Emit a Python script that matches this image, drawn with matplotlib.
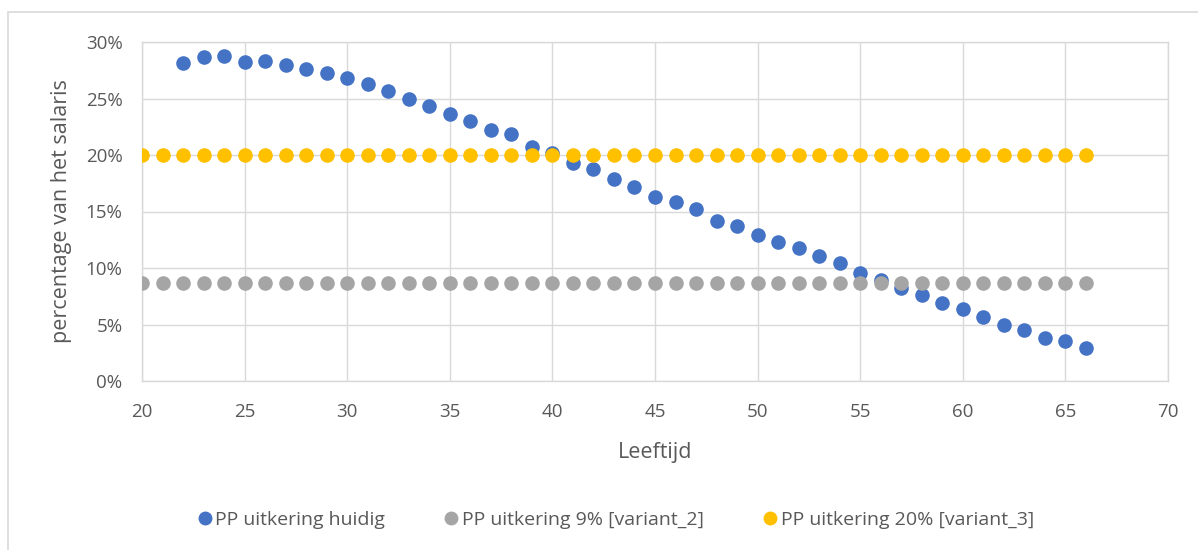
import matplotlib
matplotlib.use("Agg")
import matplotlib.pyplot as plt
from matplotlib.lines import Line2D
from matplotlib.patches import Rectangle
from matplotlib.ticker import FuncFormatter, MultipleLocator

# ── Gegevens ────────────────────────────────────────────────────────────────
leeftijd_huidig = list(range(22, 67))
pp_huidig = [28.1, 28.7, 28.8, 28.2, 28.3, 28.0, 27.6, 27.3, 26.8, 26.3,
             25.7, 25.0, 24.3, 23.6, 23.0, 22.2, 21.9, 20.7, 20.2, 19.3,
             18.8, 17.9, 17.2, 16.3, 15.8, 15.2, 14.2, 13.7, 12.9, 12.3,
             11.8, 11.1, 10.4, 9.6, 8.9, 8.2, 7.6, 6.9, 6.4, 5.7,
             5.0, 4.5, 3.8, 3.5, 2.9]
leeftijd_var = list(range(20, 67))
pp_var2 = [8.7] * len(leeftijd_var)
pp_var3 = [20.0] * len(leeftijd_var)

labels = ["PP uitkering huidig", "PP uitkering 9% [variant_2]",
          "PP uitkering 20% [variant_3]"]
kleuren = ["#4472c4", "#a5a5a5", "#ffc000"]

C_TXT = "#595959"
C_GRID = "#d9d9d9"
FONT = "Open Sans"

fig = plt.figure(figsize=(11.98, 5.50), dpi=100, facecolor="white")

# Kaderlijn rond het diagram
fig.add_artist(Rectangle((8/1198, -0.1), 1.2, 1 - 12/550 + 0.1,
               transform=fig.transFigure, fill=False,
               edgecolor=C_GRID, linewidth=1.2))

ax = fig.add_axes([142/1198, 1 - 381/550, (1168 - 142)/1198, (381 - 42)/550])

for x, y, c in zip([leeftijd_huidig, leeftijd_var, leeftijd_var],
                   [pp_huidig, pp_var2, pp_var3], kleuren):
    ax.plot(x, y, linestyle="none", marker="o", ms=10.5, color=c,
            markeredgewidth=0, zorder=3)

ax.set_xlim(20, 70)
ax.set_ylim(0, 30)
ax.xaxis.set_major_locator(MultipleLocator(5))
ax.yaxis.set_major_locator(MultipleLocator(5))
ax.yaxis.set_major_formatter(FuncFormatter(lambda v, p: f"{v:.0f}%"))
ax.grid(True, color=C_GRID, linewidth=1)
ax.set_axisbelow(True)
for s in ax.spines.values():
    s.set_color(C_GRID)
    s.set_linewidth(1)
ax.tick_params(length=0, labelsize=13.5, labelcolor=C_TXT)
ax.tick_params(axis="x", pad=16)
ax.tick_params(axis="y", pad=14)
for t in ax.get_xticklabels() + ax.get_yticklabels():
    t.set_fontfamily(FONT)

ax.set_xlabel("Leeftijd", fontsize=15.5, color=C_TXT, family=FONT, labelpad=15)
ax.set_ylabel("percentage van het salaris", fontsize=15.5, color=C_TXT,
              family=FONT, labelpad=10)

handles = [Line2D([], [], linestyle="none", marker="o", ms=10, color=c,
                  markeredgewidth=0) for c in kleuren]
fig.legend(handles, labels, loc="center", bbox_to_anchor=(0.513, 1 - 520/550),
           ncol=3, frameon=False, prop={"family": FONT, "size": 14},
           labelcolor=C_TXT, handletextpad=0.05, columnspacing=2.9,
           handlelength=1.0)

fig.savefig("out.png", dpi=100, facecolor="white")
